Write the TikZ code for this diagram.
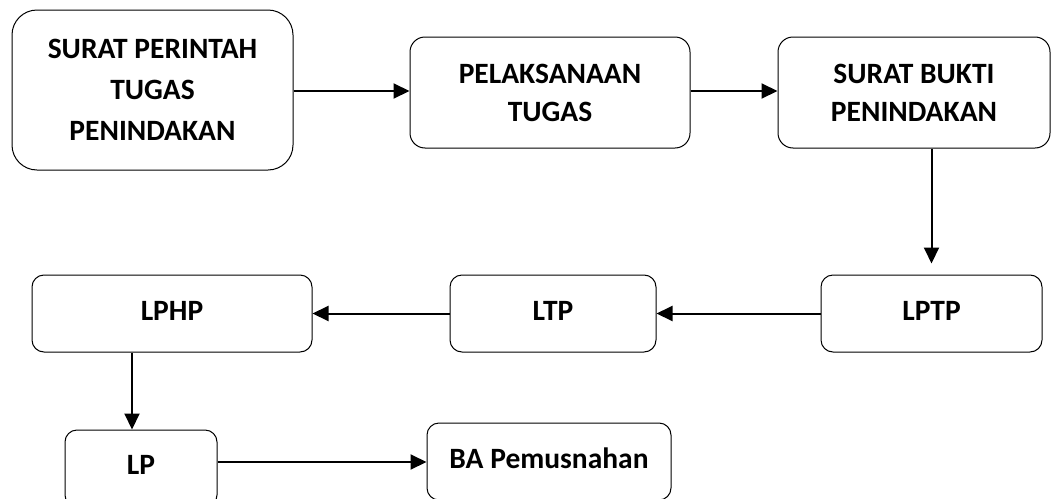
\documentclass[tikz,border=0pt]{standalone}
\usepackage{fontspec}
\setmainfont{Carlito}
\usetikzlibrary{arrows.meta}
\begin{document}
\begin{tikzpicture}[x=1pt,y=-1pt,
  box/.style={draw=black, line width=1pt, inner sep=0pt, align=center,
    font=\fontsize{29.5}{41}\selectfont\bfseries},
  arr/.style={line width=2pt, -{Triangle[length=16pt,width=15pt]}}]
\useasboundingbox (0,0) rectangle (1052,498);
\clip (0,0) rectangle (1052,498);
\node[box, rounded corners=25pt, minimum width=281pt, minimum height=160pt] (b1) at (152.5,90) {SURAT PERINTAH\\TUGAS\\PENINDAKAN};
\node[box, rounded corners=15pt, minimum width=280pt, minimum height=111pt, font=\fontsize{29.5}{38}\selectfont\bfseries] (b2) at (550,92.5) {PELAKSANAAN\\TUGAS};
\node[box, rounded corners=15pt, minimum width=272pt, minimum height=111pt, font=\fontsize{29.5}{38}\selectfont\bfseries] (b3) at (914,92.5) {SURAT BUKTI\\PENINDAKAN};
\node[box, rounded corners=12pt, minimum width=221pt, minimum height=77pt] (lptp) at (931.5,313.5) {\raisebox{6pt}{LPTP}};
\node[box, rounded corners=12pt, minimum width=206pt, minimum height=77pt] (ltp) at (553,313.5) {\raisebox{6pt}{LTP}};
\node[box, rounded corners=12pt, minimum width=280pt, minimum height=77pt] (lphp) at (172,313.5) {\raisebox{6pt}{LPHP}};
\node[box, rounded corners=12pt, minimum width=152pt, minimum height=77pt] (lp) at (141,468.5) {\raisebox{6.5pt}{LP}};
\node[box, rounded corners=12pt, minimum width=244pt, minimum height=77pt] (ba) at (549,461.5) {\raisebox{6.5pt}{BA Pemusnahan}};
\coordinate (r1) at (0,91);
\coordinate (r2) at (0,462);
\coordinate (c2) at (132,0);
\draw[arr] (b1.east |- r1) -- (b2.west |- r1);
\draw[arr] (b2.east |- r1) -- (b3.west |- r1);
\draw[arr, shorten >=11pt] (lptp.north |- b3.south) -- (lptp.north);
\draw[arr] (lptp.west) -- (ltp.east);
\draw[arr] (ltp.west) -- (lphp.east);
\draw[arr] (lphp.south -| c2) -- (lp.north -| c2);
\draw[arr] (lp.east |- r2) -- (ba.west |- r2);
\end{tikzpicture}
\end{document}
